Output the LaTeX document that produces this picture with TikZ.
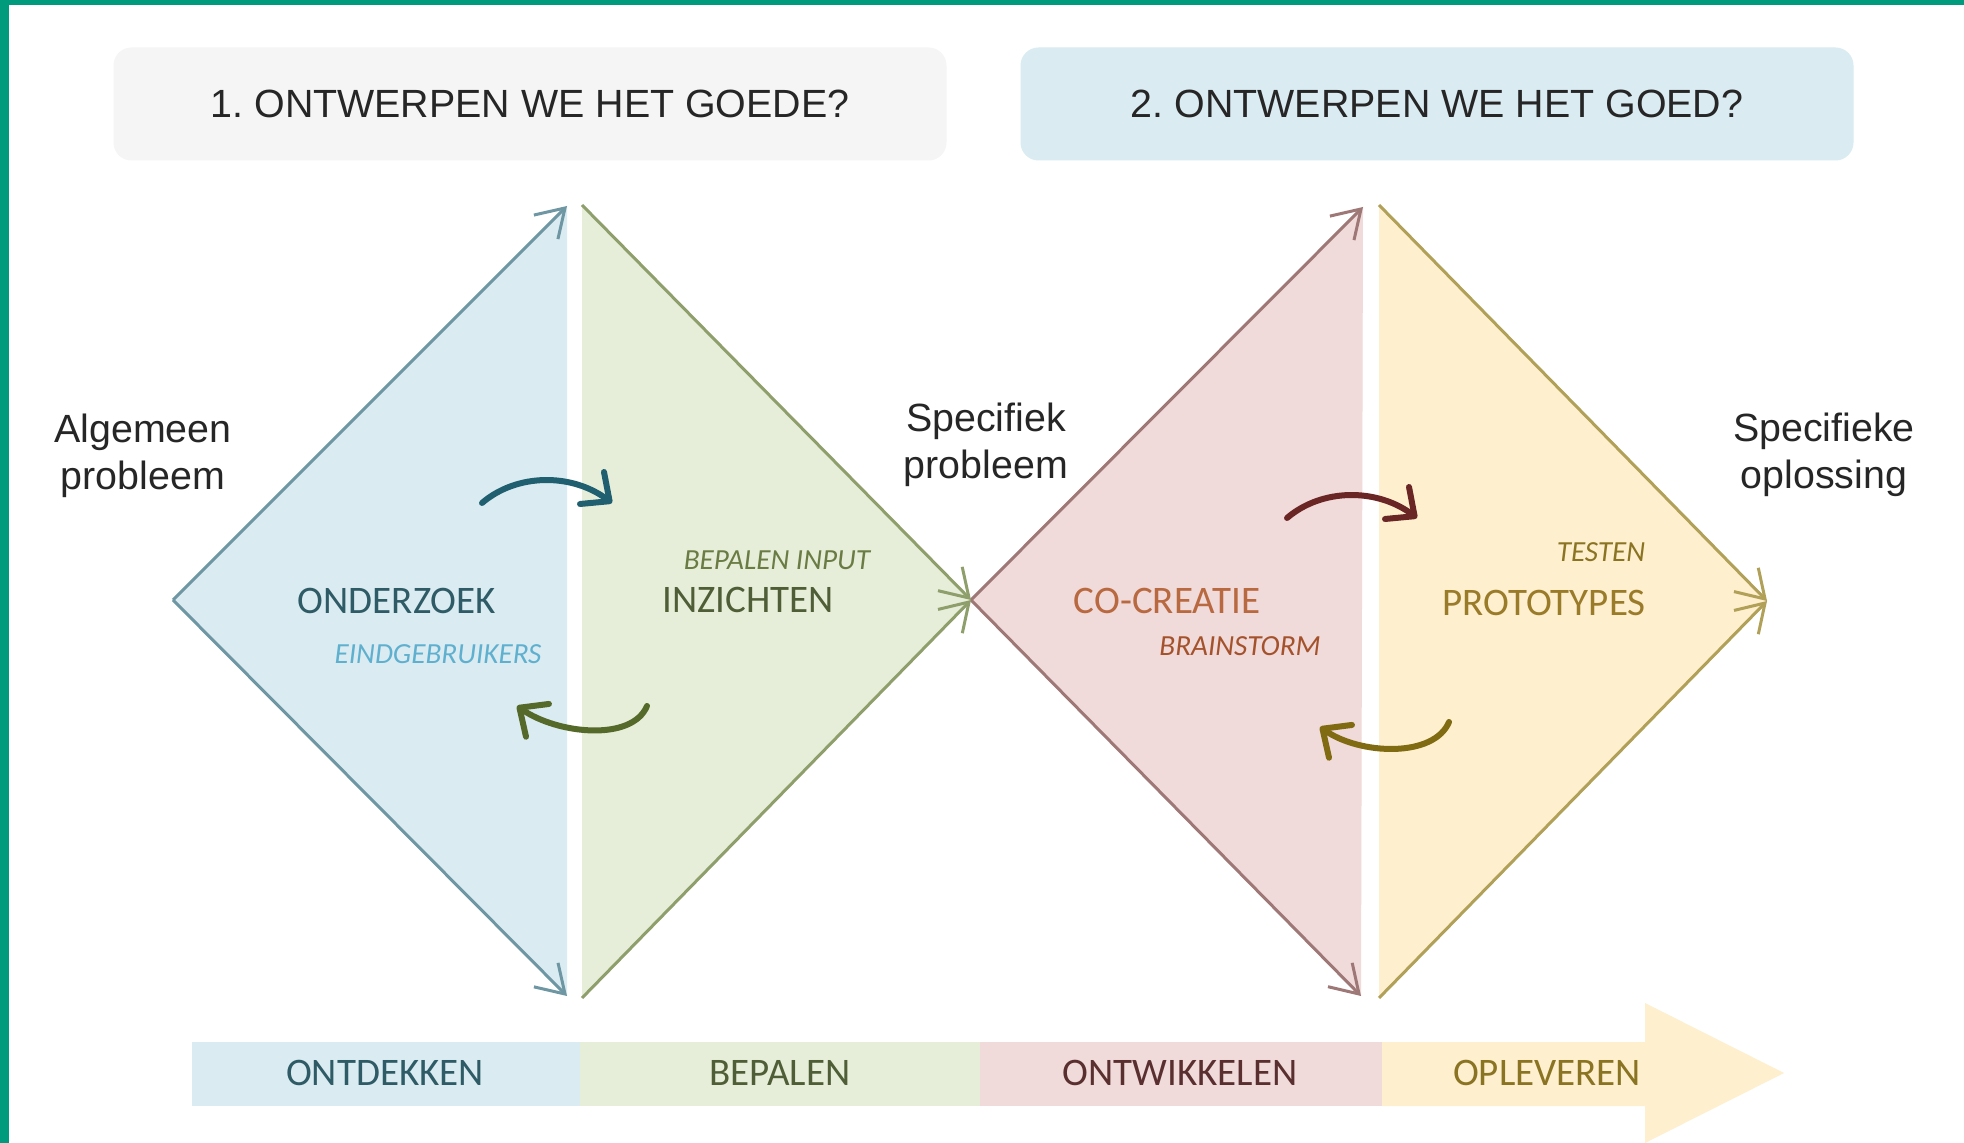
\documentclass[tikz,border=0pt]{standalone}
\usepackage{fontspec}
\setmainfont{Liberation Sans}
\newfontfamily\calib{Carlito}
\usetikzlibrary{arrows.meta,positioning}
\frenchspacing

\definecolor{frame}{HTML}{009B7D}
\definecolor{fgray}{HTML}{F5F5F5}
\definecolor{fblue}{HTML}{DAEBF2}
\definecolor{fgreen}{HTML}{E6EED9}
\definecolor{fpink}{HTML}{F0DADA}
\definecolor{fyellow}{HTML}{FEF0CE}
\definecolor{eblue}{HTML}{6E96A3}
\definecolor{egreen}{HTML}{8E9F6C}
\definecolor{epink}{HTML}{9E7777}
\definecolor{eyellow}{HTML}{B0A058}
\definecolor{cteal}{HTML}{1F5F70}
\definecolor{colive}{HTML}{55692A}
\definecolor{cmaroon}{HTML}{6A2525}
\definecolor{cgold}{HTML}{806A12}
\definecolor{tteal}{HTML}{2E5B66}
\definecolor{tsky}{HTML}{5FB0CF}
\definecolor{tolive}{HTML}{6A7C44}
\definecolor{tmoss}{HTML}{4F5E36}
\definecolor{torange}{HTML}{B8693F}
\definecolor{trust}{HTML}{A4522C}
\definecolor{tocher}{HTML}{8A7423}
\definecolor{tgold}{HTML}{9A7B2A}
\definecolor{tbrown}{HTML}{5A2F2F}
\definecolor{tdark}{HTML}{262626}

\tikzset{
  qbox/.style  = {rounded corners=1.8mm, minimum width=83.3mm, minimum height=11.3mm,
                  font=\fontsize{11.2}{13}\selectfont, text=tdark},
  side/.style  = {align=center, font=\fontsize{11.2}{13.4}\selectfont, text=tdark, inner sep=0pt},
  lbl/.style   = {font=\calib\fontsize{11.1}{13}\selectfont, inner sep=0pt},
  sub/.style   = {font=\calib\itshape\fontsize{8.3}{10}\selectfont, inner sep=0pt},
  rim/.style   = {line width=0.3mm, -{Straight Barb[length=2.7mm,width=3.4mm]}},
  turn/.style  = {line width=0.6mm, line cap=round, -{Straight Barb[length=2.2mm,width=4mm,round]}},
}

\begin{document}
\begin{tikzpicture}[x=0.1mm,y=-0.1mm]
  \useasboundingbox (0,0) rectangle (1964,1143);
  \fill[white] (0,0) rectangle (1964,1143);
  \fill[frame] (0,0) rectangle (9,1143);
  \fill[frame] (0,0) rectangle (1964,5);

  % questions
  \node[qbox, fill=fgray] (q1) at (530,104) {1. ONTWERPEN WE HET GOEDE?};
  \node[qbox, fill=fblue] (q2) at (1437,104) {2. ONTWERPEN WE HET GOED?};

  % first diamond
  \coordinate (l1) at (173,600);
  \coordinate (t1) at (567,206);
  \coordinate (b1) at (567,996);
  \coordinate (tg) at (582,205);
  \coordinate (bg) at (582,998);
  \coordinate (r1) at (971,600);
  % second diamond
  \coordinate (tp) at (1363,207);
  \coordinate (bp) at (1361,996);
  \coordinate (ty) at (1379,205);
  \coordinate (by) at (1379,998);
  \coordinate (r2) at (1767,601);

  \fill[fblue] (l1) -- (t1) -- (b1) -- cycle;
  \fill[fgreen] (tg) -- (r1) -- (bg) -- cycle;
  \fill[fpink] (r1) -- (tp) -- (bp) -- cycle;
  \fill[fyellow] (ty) -- (r2) -- (by) -- cycle;

  \draw[rim, eblue] (l1) -- (t1);
  \draw[rim, eblue] (l1) -- (b1);
  \draw[rim, epink] (r1) -- (tp);
  \draw[rim, epink] (r1) -- (bp);
  \draw[rim, egreen] (tg) -- (r1);
  \draw[rim, egreen] (bg) -- (r1);
  \draw[rim, eyellow] (ty) -- (r2);
  \draw[rim, eyellow] (by) -- (r2);

  % side texts
  \node[side] (gen) at (143,456) {Algemeen\\probleem};
  \node[side] (spp) at (986,445) {Specifiek\\probleem};
  \node[side] (spo) at (1824,455) {Specifieke\\oplossing};

  % phase texts
  \node[lbl, text=tteal] (ond) at (397,601) {ONDERZOEK};
  \node[sub, text=tsky] (eind) at (438,654) {EINDGEBRUIKERS};
  \node[sub, text=tolive] (inp) at (777,560) {BEPALEN INPUT};
  \node[lbl, text=tmoss] (inz) at (748,600) {INZICHTEN};
  \node[lbl, text=torange] (coc) at (1167,601) {CO-CREATIE};
  \node[sub, text=trust] (brs) at (1240,646) {BRAINSTORM};
  \node[sub, text=tocher] (tst) at (1601,552) {TESTEN};
  \node[lbl, text=tgold] (pro) at (1544,603) {PROTOTYPES};

  % back and forth
  \coordinate (s1) at (482,503); \coordinate (e1) at (612,503);
  \coordinate (s2) at (647,706); \coordinate (e2) at (517,706);
  \coordinate (s3) at (1287,518); \coordinate (e3) at (1417,518);
  \coordinate (s4) at (1449,722); \coordinate (e4) at (1320,727);
  \draw[turn, cteal] (s1) .. controls +(35,-30) and +(-40,-30) .. (e1);
  \draw[turn, colive] (s2) .. controls +(-15,36) and +(40,28) .. (e2);
  \draw[turn, cmaroon] (s3) .. controls +(35,-30) and +(-40,-30) .. (e3);
  \draw[turn, cgold] (s4) .. controls +(-15,36) and +(40,28) .. (e4);

  % timeline
  \fill[fblue] (192,1042) rectangle (580,1106);
  \fill[fgreen] (580,1042) rectangle (980,1106);
  \fill[fpink] (980,1042) rectangle (1382,1106);
  \fill[fyellow] (1382,1042) -- (1645,1042) -- (1645,1003) -- (1784,1073)
                 -- (1645,1143) -- (1645,1106) -- (1382,1106) -- cycle;
  \node[lbl, text=tteal] (ph1) at (385,1073) {ONTDEKKEN};
  \node[lbl, text=tmoss] (ph2) at (780,1073) {BEPALEN};
  \node[lbl, text=tbrown] (ph3) at (1180,1073) {ONTWIKKELEN};
  \node[lbl, text=tocher] (ph4) at (1547,1073) {OPLEVEREN};
\end{tikzpicture}
\end{document}
